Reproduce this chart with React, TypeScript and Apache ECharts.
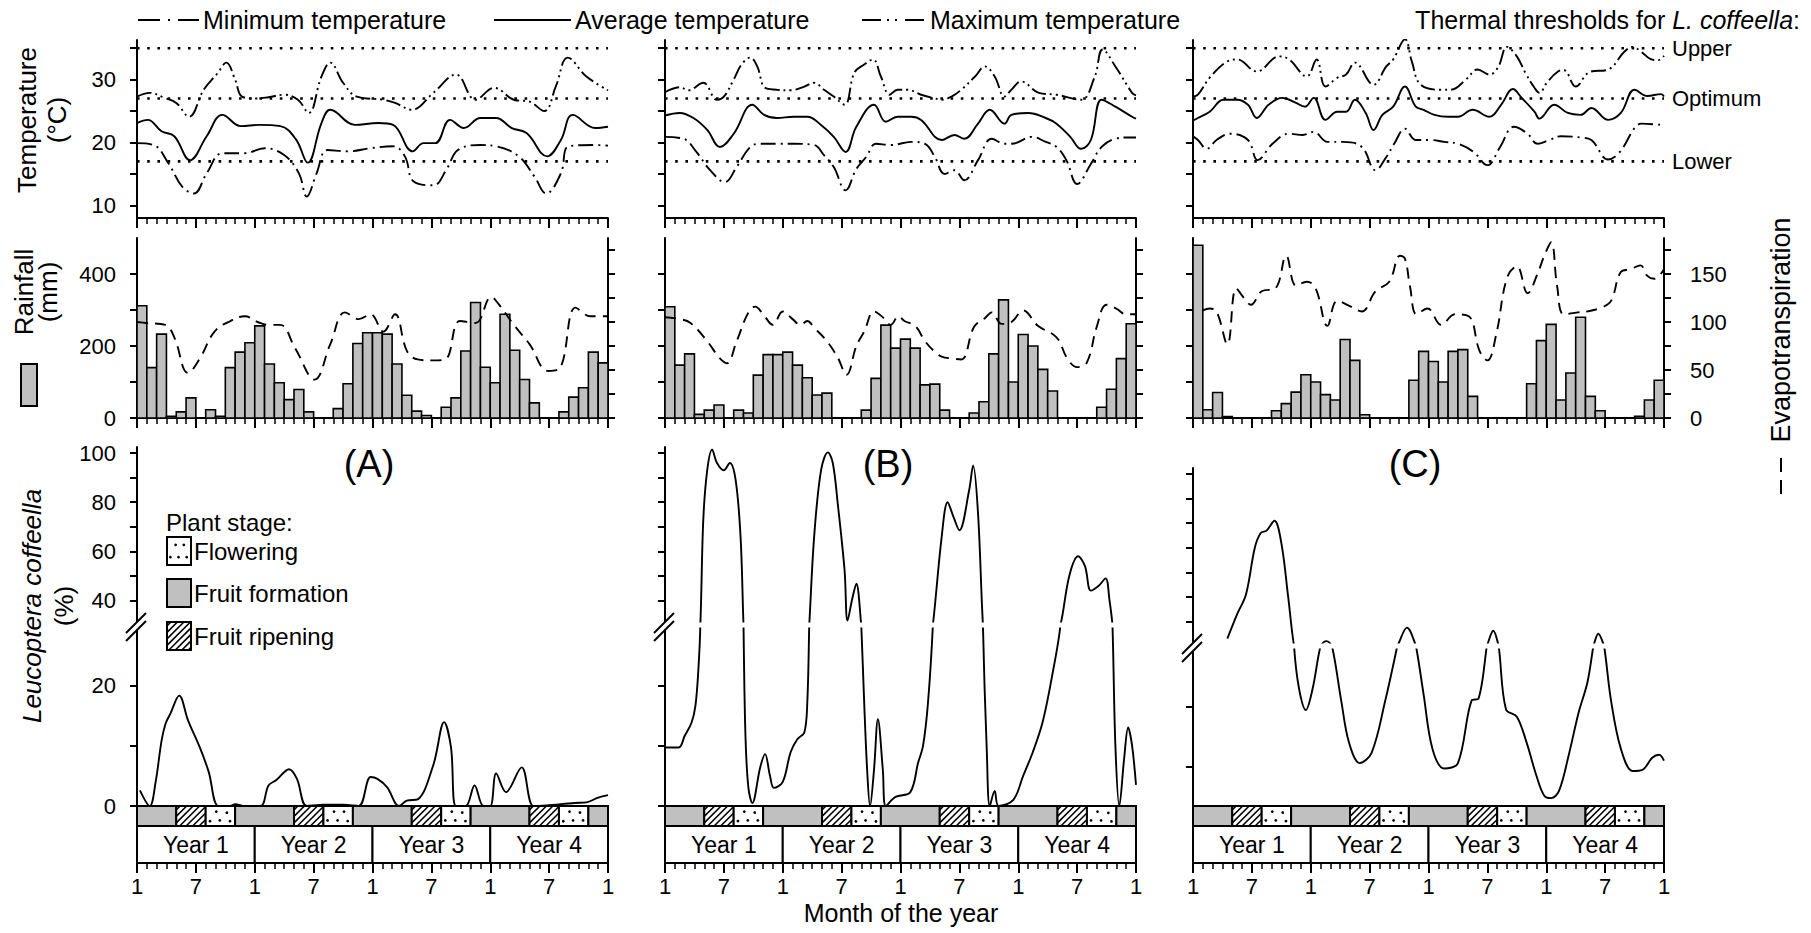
import React, { useEffect, useRef } from 'react';
import * as echarts from 'echarts';

const FONT = '"Liberation Sans", Arial, Helvetica, sans-serif';

// ---------------- data ----------------
const YEARS = ['Year 1', 'Year 2', 'Year 3', 'Year 4'];
const THRESHOLDS = [35, 27, 17];
const THRESHOLD_LABELS = ['Upper', 'Optimum', 'Lower'];
const PANEL_LETTERS = ['(A)', '(B)', '(C)'];
const LEGEND_ITEMS = ['Minimum temperature', 'Average temperature', 'Maximum temperature'];
const STAGE_LABELS = ['Flowering', 'Fruit formation', 'Fruit ripening'];
// [start month, end month, stage] stage: 0 flowering, 1 fruit formation, 2 fruit ripening
const PHENOLOGY = [[0, 4, 1], [4, 7, 2], [7, 10, 0], [10, 16, 1], [16, 19, 2], [19, 22, 0], [22, 28, 1], [28, 31, 2], [31, 34, 0], [34, 40, 1], [40, 43, 2], [43, 46, 0], [46, 48, 1]];
const MONTH_LABELS = ['1', '7'];
const TEMP_TICKS = [10, 15, 20, 25, 30, 35];
const TEMP_LABELS = [10, 20, 30];
const RAIN_TICKS = [0, 100, 200, 300, 400];
const RAIN_LABELS = [0, 200, 400];
const ET_TICKS = [0, 25, 50, 75, 100, 125, 150, 175];
const ET_LABELS = [0, 50, 100, 150];
const LEU_UP_TICKS = [40, 50, 60, 70, 80, 90, 100];
const LEU_UP_LABELS = [40, 60, 80, 100];
const LEU_LO_TICKS = [0, 10, 20];
const LEU_LO_LABELS = [0, 20];

// temperatures [month, °C]
const A_MIN = [[0, 19.9], [1.7, 19.6], [3.2, 16.7], [4.6, 13], [5.8, 11.9], [7.1, 15.1], [8.7, 18.3], [11, 18.3], [13, 19.1], [15, 18], [16.5, 15.1], [17.3, 11.4], [18.3, 15.1], [19.4, 18.8], [21.5, 18.6], [23.8, 19.1], [26.1, 19.4], [27.3, 17.8], [28.2, 13.8], [30.2, 13.2], [31.6, 15.9], [32.7, 18.8], [35, 19.6], [36.6, 19.4], [38.9, 17.8], [40.5, 14.6], [41.7, 11.9], [43.2, 15.1], [44, 19.4], [46.7, 19.6], [48, 19.5]];
const A_AVG = [[0, 23.1], [1.1, 23.6], [2.5, 21.8], [3.8, 21], [5.4, 17.2], [7.1, 21], [8.7, 24.4], [10.6, 22.6], [12.5, 22.8], [14.6, 22.6], [16.2, 20.5], [17.4, 16.8], [18.8, 23.1], [19.7, 25.2], [22.2, 22.8], [24.6, 23.1], [26.1, 22.8], [28.1, 18.6], [29.2, 19.9], [30.4, 19.9], [31.9, 23.6], [33.3, 22.3], [35, 23.9], [36.6, 23.9], [38.2, 22.3], [39.7, 21.5], [41.8, 17.8], [43.2, 20.4], [44.4, 24.4], [46.7, 22.3], [48, 22.5]];
const A_MAX = [[0, 27.3], [1.3, 27.9], [2.8, 27.1], [4, 26.3], [5.3, 24.1], [6.8, 28.4], [8.2, 31], [9.1, 32.7], [10, 30], [10.7, 27.3], [12, 27], [13.4, 27.2], [15, 27.6], [16.4, 26.8], [17.5, 24.7], [18.8, 30.5], [19.7, 32.7], [21, 29.5], [22.4, 27.3], [25.1, 26.8], [26.3, 26.3], [28, 25.2], [30.2, 27.9], [32.5, 30.8], [34.5, 26.8], [36.4, 28.7], [38.4, 26.8], [40, 26.5], [41.5, 25], [42.7, 29], [43.9, 33.5], [45.8, 30.5], [48, 28.3]];
const B_MIN = [[0, 20.9], [1.9, 20.6], [3.2, 18.5], [4.6, 15.6], [6.1, 13.7], [7.3, 16.1], [8.7, 19.3], [9.7, 19.8], [11.4, 19.8], [13.1, 19.8], [15.2, 19.6], [16.2, 18], [17.2, 16.1], [18.4, 12.4], [19.5, 15.8], [20.5, 17.7], [21.5, 19.8], [23, 19.6], [25.1, 20.1], [26.5, 19.8], [27.5, 17.7], [28.5, 15], [29.5, 15.6], [30.5, 14], [31.9, 17.2], [33.3, 20.6], [34.6, 19.8], [35.3, 19.8], [37.4, 20.9], [38.8, 20.1], [39.9, 19.3], [40.9, 17.2], [42, 13.4], [43.4, 16.6], [44.5, 19.3], [45.9, 20.6], [47.1, 20.8], [48, 20.8]];
const B_AVG = [[0, 24.3], [1.5, 24.7], [2.9, 23.9], [4.3, 22], [5.6, 19.3], [7, 21.4], [8.9, 26], [10.1, 24.4], [11.4, 23.9], [13.1, 24.1], [14.5, 24.1], [15.9, 22.8], [17.2, 20.9], [18.4, 18.5], [19.5, 22.5], [21.3, 26], [22.5, 23.3], [23.7, 24.1], [25.1, 24.1], [26.1, 23.6], [28.2, 20.4], [29.5, 21.2], [30.5, 20.6], [31.9, 23], [33.1, 25.2], [34.6, 23], [35.3, 24.4], [37, 24.7], [38.8, 23.9], [39.9, 23], [41.3, 20.9], [42.4, 19], [43.4, 20.4], [44.5, 26.8], [45.9, 25.7], [47.6, 24.1], [48, 23.8]];
const B_MAX = [[0, 28], [1.5, 28.8], [2.4, 28.3], [3.9, 29.5], [5.3, 26.8], [6, 27.3], [7, 30], [7.8, 32.4], [8.7, 33.5], [9.4, 32.1], [10.2, 28.7], [11.4, 28.4], [12.8, 28.3], [14.2, 28.9], [15.2, 29.5], [16.2, 28.4], [17.2, 27.3], [18.3, 26], [19.3, 31.1], [20.3, 32.4], [21.2, 33.2], [22, 30.5], [22.9, 27.6], [23.7, 28.4], [24.7, 28.4], [26.1, 27.6], [27.3, 27.1], [28.2, 26.8], [29.2, 27.3], [30.2, 28.4], [31.6, 30.5], [32.6, 32.1], [33.6, 30.5], [34.6, 27.3], [35.3, 28.4], [36.3, 29.7], [38.1, 27.9], [39.9, 27.6], [42.4, 26.8], [43.8, 30.5], [44.6, 34.8], [45.9, 32.1], [47.6, 27.9], [48, 27.5]];
const C_MIN = [[0, 21], [0.5, 20.4], [1.4, 19], [2.4, 20.4], [3.8, 21.4], [5.6, 20.4], [6.6, 17.2], [8.1, 19.8], [9.8, 21.4], [11.2, 21.2], [12.3, 21.7], [13.7, 20.1], [15.3, 20.1], [17.2, 19.3], [18.6, 15.6], [19.7, 17.7], [20.5, 19.8], [21.6, 22.2], [22.7, 20.4], [24.2, 20.4], [25.6, 20.1], [27, 19.8], [28.6, 18.5], [30, 16.4], [31.3, 19.3], [32.7, 22.5], [34.1, 21.4], [35.1, 19.8], [36.3, 20.4], [37.5, 21], [39.5, 20.8], [40.6, 20.4], [42.3, 17.3], [43.5, 18.5], [45, 22.3], [45.7, 23], [47.7, 22.8]];
const C_AVG = [[0, 23.5], [0.5, 23.9], [1.7, 24.9], [3.1, 26.8], [4.5, 26.8], [5.6, 26], [6.5, 23.9], [7.7, 26], [9.1, 27.1], [10.5, 26.3], [11.4, 25.7], [12.3, 27.1], [13.5, 23.6], [14.7, 24.9], [15.6, 24.9], [16.5, 26.8], [17.6, 24.7], [18.4, 22], [19.3, 24.4], [20.4, 25.7], [21.6, 28.9], [22.7, 25.7], [23.5, 25.2], [24.6, 24.4], [26, 24.1], [27, 24.1], [28.5, 25.2], [30.2, 24.1], [31.4, 26], [32.6, 28.5], [33.5, 27.1], [34.8, 24.9], [35.3, 23.8], [36.8, 26], [38.2, 24.7], [39.5, 24.4], [40.6, 25.5], [42.3, 23.6], [43.6, 24.7], [45, 28.4], [46.3, 27.4], [47.7, 27.7], [48, 27.3]];
const C_MAX = [[0, 27.3], [0.5, 27.6], [1.7, 30.3], [3.5, 32.9], [4.5, 33.2], [6.5, 31.3], [8.8, 33.7], [9.8, 33.2], [11.6, 30.5], [12.6, 33.2], [13.5, 28.9], [14.7, 30.3], [15.6, 30.8], [16.5, 32.7], [18.4, 29.2], [19.7, 32.1], [20.4, 33.2], [21.6, 36.4], [22.3, 32.9], [23.2, 29.2], [25.3, 28.4], [26.3, 28.4], [27.8, 30], [29, 31.6], [30.2, 30.8], [31.1, 32], [32, 35.2], [33, 33.7], [33.9, 31], [34.8, 28.7], [35.3, 27.9], [36.1, 29.6], [37.2, 31.3], [37.8, 31.5], [39, 28.9], [40.4, 31.2], [42.3, 31.6], [44, 34.5], [44.8, 35.2], [45.7, 34.4], [46.6, 33.3], [47.4, 33.1], [48, 33.8]];

// monthly rainfall (mm), one value per month
const A_RAIN = [312, 140, 233, 5, 17, 56, 0, 23, 5, 140, 183, 209, 256, 150, 98, 51, 79, 17, 0, 0, 26, 95, 207, 237, 237, 233, 150, 63, 19, 7, 0, 30, 56, 186, 321, 141, 98, 288, 188, 107, 42, 0, 0, 17, 58, 84, 183, 153];
const B_RAIN = [309, 147, 178, 10, 22, 36, 0, 22, 14, 119, 176, 176, 183, 147, 112, 64, 69, 0, 0, 0, 22, 110, 258, 194, 219, 194, 92, 94, 22, 0, 0, 14, 45, 178, 328, 100, 232, 200, 135, 75, 0, 0, 0, 0, 30, 80, 165, 262];
const C_RAIN = [480, 23, 71, 4, 0, 0, 0, 0, 20, 40, 72, 120, 100, 65, 50, 218, 160, 9, 0, 0, 0, 0, 105, 185, 157, 100, 185, 190, 60, 0, 0, 0, 0, 0, 95, 215, 260, 50, 125, 280, 60, 20, 0, 0, 0, 5, 50, 105];

// evapotranspiration [month, value]
const A_ET = [[0, 100], [0.9, 99], [2.9, 97], [3.8, 84], [5.2, 47], [6.4, 62], [7.9, 90], [9.5, 101], [11, 106], [12.3, 100], [13.4, 97], [14.6, 97], [16.1, 73], [18.1, 40], [19.7, 77], [21.2, 110], [22.6, 103], [23.8, 108], [25.1, 90], [26.3, 108], [27.5, 70], [28.6, 61], [30, 60], [31.4, 61], [32.9, 101], [34.5, 99], [36.1, 126], [36.9, 118], [38.4, 97], [40, 77], [41.9, 49], [43.1, 52], [44.7, 115], [46.2, 106], [48, 106]];
const B_ET = [[0, 105], [1.5, 103], [2.6, 99], [4.3, 80], [5.6, 62], [6.3, 57], [7.3, 80], [8.5, 110], [9.2, 116], [10, 108], [11, 97], [12, 111], [13, 103], [13.8, 97], [14.5, 101], [15.2, 94], [16.5, 80], [17.6, 63], [18.5, 45], [19.5, 75], [20.3, 90], [21.3, 111], [22.3, 104], [23, 97], [23.8, 106], [24.4, 101], [25.5, 96], [26.5, 80], [27.5, 69], [28.2, 64], [29.2, 62], [30.2, 61], [31.5, 95], [32.6, 104], [33.3, 110], [34.3, 98], [35.3, 100], [36.5, 112], [38, 96], [39.9, 84], [41, 62], [42, 53], [43, 58], [44, 95], [45, 118], [46, 114], [47, 108], [48, 108]];
const C_ET = [[1, 112], [1.7, 114], [2.4, 111], [3.5, 77], [4.4, 135], [5.2, 125], [5.9, 118], [7, 132], [8.4, 135], [9.5, 169], [10.5, 138], [11.6, 142], [12.5, 135], [13.7, 96], [14.7, 122], [16.1, 116], [17.2, 111], [18.6, 132], [20, 142], [21.1, 169], [21.6, 166], [22.1, 138], [22.8, 108], [23.9, 114], [25.3, 97], [26.7, 108], [28.1, 106], [29.2, 70], [30, 60], [30.9, 87], [32, 146], [33, 158], [34.1, 130], [35.1, 150], [35.8, 169], [36.5, 183], [37.1, 138], [37.8, 108], [39.2, 110], [40.2, 111], [41.6, 115], [42.6, 122], [43.6, 152], [44.6, 155], [45.6, 159], [46.3, 148], [47, 145], [48, 155]];

// Leucoptera coffeella infestation (%) [month, value]
const A_LEU = [[0.3, 2.6], [1.3, 0], [1.9, 4], [2.5, 10.8], [2.9, 13.6], [3.4, 15.3], [4.3, 18.3], [5.2, 14.2], [6.4, 9.7], [7.3, 5.7], [8.3, 0], [9.5, 0], [10, 0.3], [11, 0], [12.6, 0], [13.4, 3.4], [14.2, 4.3], [15.5, 6.1], [16.3, 4.5], [17.3, 0], [19, 0.2], [21, 0.2], [22.6, 0], [23.8, 4.8], [24.5, 4.5], [25.5, 3.1], [26.7, 0], [27.5, 0.9], [28.6, 1.1], [30.2, 6.8], [31.3, 13.9], [32, 9.7], [32.5, 0], [33.5, 0], [34.4, 3.4], [35.3, 0], [36, 0], [36.6, 5.4], [37.6, 2.3], [39.2, 6.4], [40.4, 0], [41.7, 0.1], [44.6, 0.5], [45.8, 0.6], [47, 1.4], [48, 1.8]];
const B_LEU = [[0, 9.7], [1.4, 9.7], [2, 11.6], [2.7, 13.8], [3.1, 16.6], [3.4, 22.6], [3.6, 30], [3.9, 72.7], [4.3, 93], [4.8, 101.4], [5.3, 96], [6, 93], [6.6, 96], [7.2, 89], [7.7, 66], [8, 30], [8.2, 11.6], [8.5, 3], [8.9, 0.5], [9.7, 6.4], [10.2, 8.6], [10.7, 5], [11.1, 3], [12, 4], [12.8, 8.9], [13.5, 11.1], [14.2, 12.2], [14.5, 17.1], [14.7, 30], [15.2, 66], [15.9, 93], [16.6, 100.3], [17.1, 96], [17.6, 79.6], [18.3, 52.3], [18.6, 31.8], [19.1, 41], [19.5, 46.8], [20, 30], [20.3, 17.1], [20.6, 6], [20.9, 0], [21.3, 6], [21.7, 14.4], [22.2, 6], [22.5, 0], [23.5, 1.5], [25, 2.3], [25.8, 7.2], [26.3, 10], [26.8, 17.1], [27.3, 30], [28.2, 66], [28.8, 80], [29.4, 74], [30, 68.6], [31, 85], [31.4, 95], [31.9, 75.5], [32.4, 30], [32.8, 8.9], [33.1, 0], [33.6, 2.5], [34, 0], [35.5, 1], [36.5, 5], [37.5, 9], [38.5, 14], [39.5, 22], [40.3, 30], [41.2, 50], [42.1, 58], [42.8, 54], [43.4, 44], [44.2, 46], [44.9, 49], [45.3, 40], [45.6, 30], [45.9, 10], [46.3, 0], [46.8, 8], [47.2, 13], [47.6, 10], [48, 3.5]];
const C_LEU = [[3.5, 33], [4.5, 43], [5.4, 51], [6.3, 70], [6.9, 76], [7.5, 77], [8.3, 81], [9, 72], [9.7, 50], [10.3, 30], [10.8, 23], [11.5, 19.4], [12.2, 23], [13, 30], [13.6, 32], [14.2, 29.7], [15.1, 21], [15.9, 14], [17, 10.6], [18.2, 12.3], [19.6, 21], [20.9, 30.6], [21.8, 37.5], [22.8, 29.3], [23.5, 22], [24.4, 13], [25.6, 9.7], [27, 10.6], [28.4, 21], [29.1, 21.3], [30, 30.6], [30.6, 36.2], [31.2, 29.3], [31.9, 19.5], [33, 18.3], [34, 14], [35, 8.5], [35.8, 5.2], [36.5, 4.8], [37.3, 6], [38.3, 12], [39.3, 19], [40.2, 24], [40.8, 30], [41.3, 35], [41.9, 30], [42.6, 21], [43.6, 13], [44.8, 9.3], [45.8, 9.5], [46.8, 11.5], [47.5, 12], [48, 11]];

const PANELS = [
  { min: A_MIN, avg: A_AVG, max: A_MAX, rain: A_RAIN, et: A_ET, leu: A_LEU },
  { min: B_MIN, avg: B_AVG, max: B_MAX, rain: B_RAIN, et: B_ET, leu: B_LEU },
  { min: C_MIN, avg: C_AVG, max: C_MAX, rain: C_RAIN, et: C_ET, leu: C_LEU },
];

// ---------------- layout ----------------
const LEFTS = [137, 665, 1193];
const WIDTH = 471;
// per panel: [top, height] for temperature, rainfall, leucoptera upper, leucoptera lower, phenology band
const ROWS_AB = [[40, 178], [238, 180], [447, 178], [625, 181], [806, 57]];
const ROWS_C = [[40, 178], [238, 180], [468, 178], [646, 160], [806, 57]];
const PANEL_ROWS = [ROWS_AB, ROWS_AB, ROWS_C];
const LOWER_MIN = [0, 0, 3.5];

const LINE_MIN = [15, 5, 2, 5];
const LINE_MAX = [15, 4, 2, 4, 2, 4];
const BLACK = '#000';

function hatch(x0: number, y0: number, x1: number, y1: number, step: number) {
  const out: any[] = [];
  for (let d = x0 + y0 + step * 0.6; d < x1 + y1; d += step) {
    const xa = Math.max(x0, d - y1);
    const xb = Math.min(x1, d - y0);
    if (xb > xa) out.push({ type: 'line', shape: { x1: xa, y1: d - xa, x2: xb, y2: d - xb }, style: { stroke: BLACK, lineWidth: 1.6 } });
  }
  return out;
}
function dots(x0: number, y0: number, x1: number, y1: number) {
  const out: any[] = [];
  const w = x1 - x0, h = y1 - y0;
  const rows = [[0.28, 0.36], [0.72, 0.14]];
  rows.forEach(([fy, start]) => {
    for (let fx = start; fx < 0.95; fx += 0.34) {
      out.push({ type: 'circle', shape: { cx: x0 + fx * w, cy: y0 + fy * h, r: 1.4 }, style: { fill: BLACK } });
    }
  });
  return out;
}
function stageBox(x0: number, y0: number, x1: number, y1: number, stage: number) {
  const els: any[] = [{ type: 'rect', shape: { x: x0, y: y0, width: x1 - x0, height: y1 - y0 }, style: { fill: stage === 1 ? '#c0c0c0' : '#fff', stroke: 'none' } }];
  if (stage === 2) els.push(...hatch(x0, y0, x1, y1, 6.5));
  if (stage === 0) els.push(...dots(x0, y0, x1, y1));
  els.push({ type: 'rect', shape: { x: x0, y: y0, width: x1 - x0, height: y1 - y0 }, style: { fill: 'none', stroke: BLACK, lineWidth: 2 } });
  return els;
}

function txt(x: number, y: number, text: string, size: number, align = 'left', extra: any = {}) {
  return {
    type: 'text', x, y, silent: true, ...extra,
    style: { text, fill: BLACK, fontSize: size, fontFamily: FONT, textAlign: align, align, textVerticalAlign: 'middle', verticalAlign: 'middle', ...(extra.style || {}) },
  };
}

function buildOption() {
  const grid: any[] = [], xAxis: any[] = [], yAxis: any[] = [], series: any[] = [];
  const tickStyle = { color: BLACK, width: 2 };
  const lbl = (show: boolean, values: number[], margin: number) => ({ show, customValues: values, color: BLACK, fontSize: 22, fontFamily: FONT, margin });

  PANELS.forEach((P, p) => {
    const left = LEFTS[p];
    const rows = PANEL_ROWS[p];
    const g = grid.length;
    rows.forEach(([top, h]) => grid.push({ left, top, width: WIDTH, height: h }));
    rows.forEach((_, r) => {
      const show = r === 0 || r === 1 || r === 4;
      xAxis.push({
        gridIndex: g + r, type: 'value', min: 0, max: 48, interval: 6, show,
        axisLine: { show, onZero: false, lineStyle: tickStyle },
        axisTick: { show, length: 10, lineStyle: tickStyle },
        minorTick: { show, splitNumber: 6, length: 6, lineStyle: { color: BLACK, width: 1.5 } },
        axisLabel: { show: r === 4, formatter: (v: number) => (v % 12 === 0 ? MONTH_LABELS[0] : MONTH_LABELS[1]), color: BLACK, fontSize: 22, fontFamily: FONT, margin: 12 },
        splitLine: { show: false }, minorSplitLine: { show: false },
      });
    });
    const y = yAxis.length;
    const yBase = (gi: number, min: number, max: number, ticks: number[], labels: number[], showLabels: boolean, pos: string = 'left') => ({
      gridIndex: gi, type: 'value', min, max, position: pos,
      axisLine: { show: true, onZero: false, lineStyle: tickStyle },
      axisTick: { show: true, length: 7, customValues: ticks.filter((t) => t >= min && t <= max), lineStyle: tickStyle },
      axisLabel: lbl(showLabels, labels, pos === 'right' ? 26 : 21),
      splitLine: { show: false },
    });
    yAxis.push(
      yBase(g, 8, 36.3, TEMP_TICKS, TEMP_LABELS, p === 0),
      yBase(g + 1, 0, 500, RAIN_TICKS, RAIN_LABELS, p === 0),
      yBase(g + 1, 0, 187.5, ET_TICKS, ET_LABELS, p === 2, 'right'),
      yBase(g + 2, 30, 102.5, LEU_UP_TICKS, LEU_UP_LABELS, p === 0),
      yBase(g + 3, LOWER_MIN[p], 30, LEU_LO_TICKS, LEU_LO_LABELS, p === 0),
      { gridIndex: g + 4, type: 'value', min: 0, max: 57, show: false, splitLine: { show: false } },
    );

    // thresholds
    THRESHOLDS.forEach((t, k) => {
      series.push({
        type: 'line', xAxisIndex: g, yAxisIndex: y, data: [[0, t], [48, t]], symbol: 'none', silent: true,
        lineStyle: { color: BLACK, width: 2.6, type: [2.6, 7.6], cap: 'butt' },
        endLabel: p === 2 ? { show: true, formatter: THRESHOLD_LABELS[k], color: BLACK, fontSize: 22, fontFamily: FONT, distance: 8 } : { show: false },
      });
    });
    const tl = (data: any, type: any) => ({ type: 'line', xAxisIndex: g, yAxisIndex: y, data, smooth: 0.4, symbol: 'none', silent: true, lineStyle: { color: BLACK, width: 1.9, type } });
    series.push(tl(P.min, LINE_MIN), tl(P.avg, 'solid'), tl(P.max, LINE_MAX));

    // rainfall bars
    series.push({
      type: 'custom', xAxisIndex: g + 1, yAxisIndex: y + 1, silent: true,
      data: P.rain.map((v, i) => [i, v]), encode: { x: 0, y: 1 },
      renderItem: (_: any, api: any) => {
        const i = api.value(0), v = api.value(1);
        if (!(v > 0)) return { type: 'group', children: [] };
        const a = api.coord([i, v]), b = api.coord([i + 1, 0]);
        return { type: 'rect', shape: { x: a[0], y: a[1], width: b[0] - a[0], height: b[1] - a[1] }, style: { fill: '#c0c0c0', stroke: BLACK, lineWidth: 1.6 } };
      },
    });
    // evapotranspiration
    series.push({ type: 'line', xAxisIndex: g + 1, yAxisIndex: y + 2, data: P.et, smooth: 0.4, symbol: 'none', silent: true, lineStyle: { color: BLACK, width: 1.9, type: [11, 7] } });

    // leucoptera (upper and lower part of the broken axis)
    [2, 3].forEach((r) => series.push({ type: 'line', xAxisIndex: g + r, yAxisIndex: y + 1 + r, data: P.leu, smooth: 0.35, symbol: 'none', silent: true, clip: true, lineStyle: { color: BLACK, width: 1.9 } }));

    // phenology band
    series.push({
      type: 'custom', xAxisIndex: g + 4, yAxisIndex: y + 5, silent: true, clip: false,
      data: PHENOLOGY, encode: { x: [0, 1] },
      renderItem: (_: any, api: any) => {
        const a = api.coord([api.value(0), 57]);
        const b = api.coord([api.value(1), 37]);
        return { type: 'group', children: stageBox(a[0], a[1], b[0], b[1], api.value(2)) };
      },
    });
    // year boxes
    series.push({
      type: 'custom', xAxisIndex: g + 4, yAxisIndex: y + 5, silent: true, clip: false,
      data: YEARS.map((_, i) => [i * 12, (i + 1) * 12]), encode: { x: [0, 1] },
      renderItem: (params: any, api: any) => {
        const a = api.coord([api.value(0), 37]);
        const b = api.coord([api.value(1), 0]);
        return {
          type: 'group', children: [
            { type: 'rect', shape: { x: a[0], y: a[1], width: b[0] - a[0], height: b[1] - a[1] }, style: { fill: '#fff', stroke: BLACK, lineWidth: 2 } },
            { type: 'text', style: { text: YEARS[params.dataIndex], x: (a[0] + b[0]) / 2, y: (a[1] + b[1]) / 2, fill: BLACK, fontSize: 23, fontFamily: FONT, textAlign: 'center', align: 'center', textVerticalAlign: 'middle', verticalAlign: 'middle' } },
          ],
        };
      },
    });
  });

  // ---------- graphic decorations ----------
  const G: any[] = [];
  // axis breaks (white gap across the plot + // marks)
  LEFTS.forEach((L, p) => {
    const B = PANEL_ROWS[p][3][0];
    G.push({ type: 'rect', shape: { x: L + 2, y: B - 2.5, width: WIDTH - 2, height: 5 }, style: { fill: '#fff' } });
    G.push({ type: 'polygon', shape: { points: [[L - 11, B + 8], [L + 9, B - 12], [L + 9, B - 4], [L - 11, B + 16]] }, style: { fill: '#fff' } });
    G.push({ type: 'line', shape: { x1: L - 11, y1: B + 8, x2: L + 9, y2: B - 12 }, style: { stroke: BLACK, lineWidth: 2 } });
    G.push({ type: 'line', shape: { x1: L - 11, y1: B + 16, x2: L + 9, y2: B - 4 }, style: { stroke: BLACK, lineWidth: 2 } });
  });

  // top legend
  G.push({ type: 'polyline', shape: { points: [[138, 20], [199, 20]] }, style: { stroke: BLACK, lineWidth: 2, lineDash: [22, 8, 2, 8] } });
  G.push(txt(203, 20, LEGEND_ITEMS[0], 25));
  G.push({ type: 'line', shape: { x1: 494, y1: 20, x2: 571, y2: 20 }, style: { stroke: BLACK, lineWidth: 2 } });
  G.push(txt(575, 20, LEGEND_ITEMS[1], 25));
  G.push({ type: 'polyline', shape: { points: [[862, 20], [927, 20]] }, style: { stroke: BLACK, lineWidth: 2, lineDash: [19, 6, 2, 6, 2, 8] } });
  G.push(txt(930, 20, LEGEND_ITEMS[2], 25));
  G.push({
    type: 'text', x: 1800, y: 20, silent: true,
    style: { text: '{n|Thermal thresholds for }{i|L. coffeella}{n|:}', textAlign: 'right', align: 'right', textVerticalAlign: 'middle', verticalAlign: 'middle', rich: { n: { fontSize: 25, fontFamily: FONT, fill: BLACK, color: BLACK }, i: { fontSize: 25, fontFamily: FONT, fontStyle: 'italic', fill: BLACK, color: BLACK } } },
  });

  // left titles
  G.push(txt(42, 120, 'Temperature\n(°C)', 26, 'center', { rotation: Math.PI / 2, style: { lineHeight: 30 } }));
  G.push(txt(36, 292, 'Rainfall\n(mm)', 26, 'center', { rotation: Math.PI / 2, style: { lineHeight: 24 } }));
  G.push({ type: 'rect', shape: { x: 21, y: 364, width: 16, height: 42 }, style: { fill: '#c0c0c0', stroke: BLACK, lineWidth: 2 } });
  G.push({
    type: 'text', x: 48, y: 606, rotation: Math.PI / 2, silent: true,
    style: { text: '{i|Leucoptera coffeella}\n{n|(%)}', textAlign: 'center', align: 'center', textVerticalAlign: 'middle', verticalAlign: 'middle', rich: { i: { fontSize: 26, fontFamily: FONT, fontStyle: 'italic', fill: BLACK, color: BLACK, lineHeight: 32, align: 'center' }, n: { fontSize: 26, fontFamily: FONT, fill: BLACK, color: BLACK, lineHeight: 32, align: 'center' } } },
  });
  // right title (evapotranspiration)
  G.push(txt(1781, 330, 'Evapotranspiration', 27, 'center', { rotation: Math.PI / 2 }));
  G.push({ type: 'line', shape: { x1: 1781, y1: 494, x2: 1781, y2: 452 }, style: { stroke: BLACK, lineWidth: 2, lineDash: [14, 8] } });

  // panel letters
  [369, 888, 1415].forEach((x, i) => G.push(txt(x, 464, PANEL_LETTERS[i], 38, 'center')));

  // plant stage legend
  G.push(txt(166, 522, 'Plant stage:', 24));
  [[0, 537], [1, 579], [2, 622]].forEach(([st, yy], k) => {
    G.push(...stageBox(167, yy, 191, yy + 28, st));
    G.push(txt(194, yy + 14, STAGE_LABELS[k], 24));
  });

  // x axis title
  G.push(txt(901, 913, 'Month of the year', 25, 'center'));

  return {
    animation: false,
    backgroundColor: '#fff',
    grid, xAxis, yAxis, series,
    graphic: { elements: G.map((e) => ({ z: 100, ...e })) },
  };
}

export default function App() {
  const ref = useRef<HTMLDivElement>(null);
  useEffect(() => {
    if (!ref.current) return;
    const chart = echarts.init(ref.current, undefined, { renderer: 'svg' });
    chart.setOption(buildOption() as any);
    return () => chart.dispose();
  }, []);
  return <div ref={ref} style={{ position: 'absolute', left: 0, top: 0, width: 1811, height: 933, background: '#fff' }} />;
}
